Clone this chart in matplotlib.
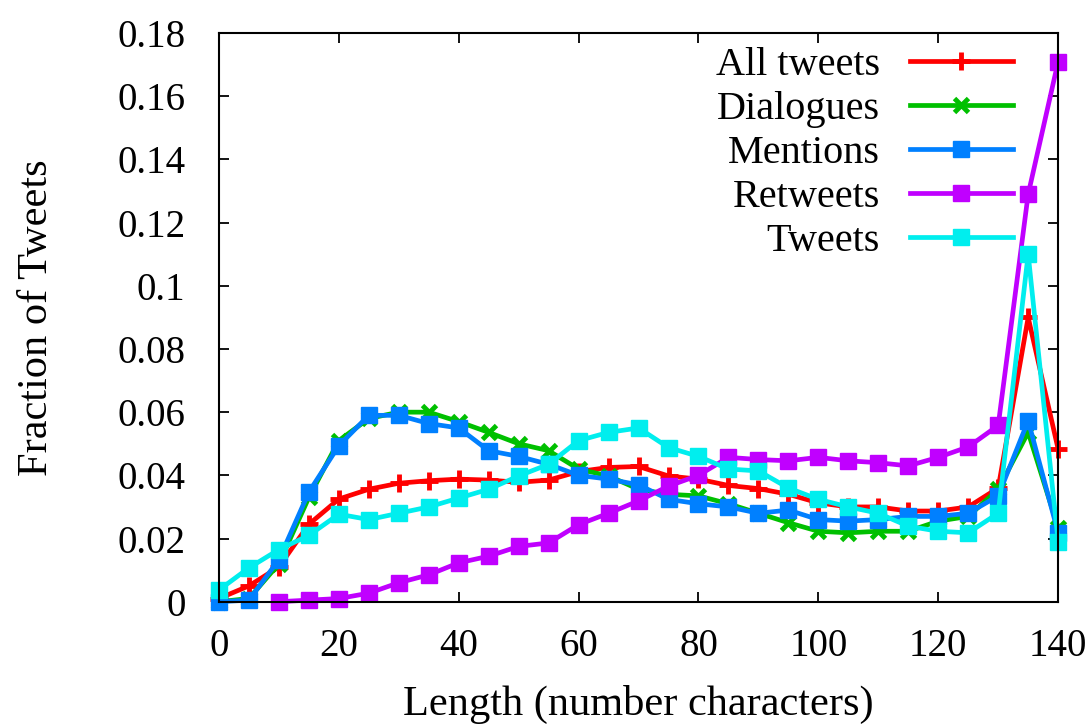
import matplotlib
matplotlib.use('Agg')
import matplotlib.pyplot as plt
import numpy as np

plt.rcParams['font.family'] = ['Liberation Serif', 'DejaVu Serif']

# tweet length bins (characters)
length = np.arange(0, 145, 5)

all_tweets = [0.001, 0.005, 0.011, 0.0245, 0.0325, 0.0356, 0.0375, 0.0383, 0.0388, 0.0385,
              0.0378, 0.0385, 0.0412, 0.0425, 0.0428, 0.0398, 0.0388, 0.0368, 0.0358, 0.034,
              0.0313, 0.030, 0.030, 0.0287, 0.0287, 0.030, 0.036, 0.090, 0.0483]
dialogues = [0.0, 0.001, 0.012, 0.033, 0.051, 0.058, 0.060, 0.060, 0.057, 0.0536,
             0.050, 0.0478, 0.042, 0.0398, 0.0356, 0.034, 0.0335, 0.031, 0.028, 0.025,
             0.0223, 0.0218, 0.0223, 0.0223, 0.0255, 0.027, 0.0356, 0.0536, 0.0234]
mentions = [0.0, 0.0005, 0.0133, 0.0347, 0.0494, 0.059, 0.059, 0.0564, 0.055, 0.0478,
            0.046, 0.0435, 0.040, 0.0388, 0.037, 0.0324, 0.031, 0.030, 0.028, 0.029,
            0.026, 0.0255, 0.026, 0.027, 0.027, 0.028, 0.0335, 0.0573, 0.0218]
retweets = [0.0, 0.0005, 0.001, 0.0027, 0.006, 0.0085, 0.0123, 0.0144, 0.0175, 0.0186,
            0.0244, 0.028, 0.0319, 0.0366, 0.040, 0.0457, 0.045, 0.0446, 0.0457, 0.0446,
            0.044, 0.043, 0.0457, 0.049, 0.0558, 0.129, 0.171]
tweets = [0.0037, 0.0107, 0.0165, 0.021, 0.0277, 0.026, 0.028, 0.030, 0.0328, 0.0356,
          0.0398, 0.0435, 0.051, 0.0536, 0.055, 0.0488, 0.046, 0.042, 0.0414, 0.036,
          0.0324, 0.030, 0.028, 0.0239, 0.0223, 0.0218, 0.028, 0.110, 0.019]

fig = plt.figure(figsize=(10.92, 7.28), dpi=100)
ax = fig.add_axes([0.2005, 0.1735, 0.7685, 0.781])

lw = 3.4
ax.plot(length, all_tweets, color='#ff0000', lw=lw, marker='+', ms=13, mew=3.5,
        label='All tweets', clip_on=False)
ax.plot(length, dialogues, color='#00c000', lw=lw, marker='x', ms=10, mew=3.5,
        label='Dialogues', clip_on=False)
ax.plot(length, mentions, color='#0080ff', lw=lw, marker='s', ms=11.5,
        label='Mentions', clip_on=False)
ax.plot(length[2:], retweets, color='#c000ff', lw=lw, marker='s', ms=11.5,
        label='Retweets', clip_on=False)
ax.plot(length, tweets, color='#00eeee', lw=lw, marker='s', ms=11.5,
        label='Tweets', clip_on=False)

ax.set_xlim(0, 140)
ax.set_ylim(0, 0.18)
ax.set_xticks(np.arange(0, 141, 20))
ax.set_yticks(np.arange(0, 0.181, 0.02))
ax.set_yticklabels(['0', '0.02', '0.04', '0.06', '0.08', '0.1', '0.12', '0.14', '0.16', '0.18'])
ax.tick_params(direction='in', length=7, width=1.3, top=True, right=True, labelsize=28)
ax.tick_params(axis='x', pad=19)
ax.tick_params(axis='y', pad=24)
for s in ax.spines.values():
    s.set_linewidth(1.5)

ax.set_xlabel('Length (number characters)', fontsize=30.5, labelpad=14)
ax.set_ylabel('Fraction of Tweets', fontsize=30.5, labelpad=44)

ax.legend(loc='upper right', frameon=False, markerfirst=False, fontsize=29,
          handlelength=2.55, handletextpad=0.75, labelspacing=0.17,
          borderpad=0.0, borderaxespad=0.0, bbox_to_anchor=(0.946, 0.976))

fig.savefig('out.png', dpi=100)
